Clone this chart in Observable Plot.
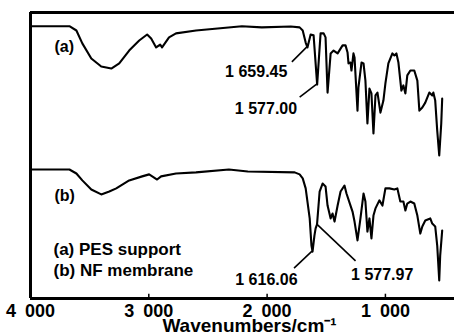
<!DOCTYPE html>
<html><head><meta charset="utf-8">
<script src="https://cdn.jsdelivr.net/npm/d3@7"></script>
<script src="https://cdn.jsdelivr.net/npm/@observablehq/plot@0.6"></script>
<style>body{margin:0;background:#fff}</style>
</head><body><div id="chart"></div>
<script>
// Trace (a) PES support
const wavenumberA = [4000,3671,3612,3562,3486,3402,3317,3250,3166,3081,3014,2980,2938,2904,2888,2829,2770,2601,2213,2045,1800,1725,1699,1674,1659,1632,1607,1577,1548,1522,1506,1489,1463,1438,1404,1362,1337,1320,1312,1295,1287,1270,1261,1236,1228,1202,1185,1169,1152,1135,1118,1101,1084,1067,1042,1017,1000,975,941,924,907,890,865,848,831,815,789,756,730,713,688,663,629,604,595,579,562,545,528,520];
const transmittanceA = [95.2,95.2,93.7,89.2,83.9,81.1,80.4,82.2,86.7,90.2,92.3,90.9,87.8,88.8,87.8,91.3,92.7,93.7,95.2,94.8,95.1,94.8,93.7,89.5,87.8,92.3,92.0,74.8,92.7,92.7,91.3,72.0,85.7,86.7,85.7,88.5,88.5,86.0,82.2,82.5,79.7,85.7,84.3,65.7,73.8,82.5,82.2,76.2,61.2,73.4,71.7,57.7,71.0,72.0,65.0,69.2,75.2,82.2,85.7,85.0,85.7,82.5,72.7,74.5,71.7,78.0,79.7,79.7,76.2,65.7,66.8,68.5,72.0,71.0,72.0,69.2,58.7,50.0,61.2,69.9];
// Trace (b) NF membrane
const wavenumberB = [4000,3671,3612,3562,3486,3402,3334,3275,3166,3056,2997,2955,2930,2896,2770,2601,2323,2163,1767,1725,1699,1674,1640,1625,1616,1600,1590,1578,1556,1531,1506,1489,1463,1447,1430,1404,1379,1346,1329,1295,1278,1261,1236,1211,1185,1169,1152,1135,1118,1101,1084,1051,1025,1000,966,924,899,874,848,831,815,789,756,730,705,688,663,621,604,579,562,545,537,520];
const transmittanceB = [45.1,45.1,43.7,41.3,38.1,36.4,37.4,38.5,41.3,42.7,43.4,42.3,41.6,42.7,43.7,44.1,45.1,44.4,44.1,43.4,42.0,38.5,28.0,18.5,16.4,22.0,24.5,25.9,37.4,40.2,39.2,32.5,28.0,29.7,26.9,32.5,37.4,39.5,36.7,32.5,30.4,26.9,20.3,28.0,36.7,33.9,23.4,28.0,21.0,29.0,31.5,34.3,32.5,38.5,38.5,38.1,38.5,33.9,33.9,30.8,33.2,33.9,33.2,29.0,22.7,25.2,27.3,28.0,26.2,25.2,18.5,6.3,15.0,23.8];

const tickValues = [4000, 3000, 2000, 1000];
const tickLabels = ["4 000", "3 000", "2 000", "1 000"];
const xTitle = "Wavenumbers/cm\u207B\u00B9";
const traceLabels = ["(a)", "(b)"];
const legendLines = ["(a) PES support", "(b) NF membrane"];
const peakLabels = ["1 659.45", "1 577.00", "1 616.06", "1 577.97"];
const peakWavenumbers = [1659.45, 1577.00, 1616.06, 1577.97];
const peakTransmittance = [87.8, 74.8, 16.4, 25.9];

const dataA = wavenumberA.map((w, i) => ({w, t: transmittanceA[i]}));
const dataB = wavenumberB.map((w, i) => ({w, t: transmittanceB[i]}));
const peaks = peakLabels.map((label, i) => ({label, w: peakWavenumbers[i], t: peakTransmittance[i]}));

// label layout (pixel offsets from each peak): leader end, text offset, anchor
const layout = [
  {lx: -15, ly: 15, dx: -20, dy: 24, anchor: "end"},
  {lx: -17, ly: 13, dx: -20, dy: 24, anchor: "end"},
  {lx: -18, ly: 17, dx: -15, dy: 28, anchor: "end"},
  {lx: 39, ly: 37, dx: 34, dy: 50, anchor: "start"}
];

const font = "Liberation Sans, Arial, Helvetica, sans-serif";
const txt = {fontFamily: font, fontWeight: "bold", fill: "black"};

const leaders = (index, scales) => {
  const g = d3.create("svg:g").attr("stroke", "black").attr("stroke-width", 1.6).attr("fill", "none");
  peaks.forEach((p, i) => {
    const x = scales.x(p.w), y = scales.y(p.t);
    g.append("line").attr("x1", x).attr("y1", y)
      .attr("x2", x + layout[i].lx).attr("y2", y + layout[i].ly);
  });
  return g.node();
};

const peakTextMarks = peaks.map((p, i) => Plot.text([p], {
  x: "w", y: "t", text: "label", dx: layout[i].dx, dy: layout[i].dy,
  textAnchor: layout[i].anchor, lineAnchor: "middle", fontSize: 16, ...txt
}));

const chart = Plot.plot({
  width: 454, height: 336,
  marginLeft: 30, marginRight: 0, marginTop: 12, marginBottom: 38,
  x: {domain: [4000, 416], axis: null},
  y: {domain: [0, 100], axis: null},
  style: {background: "white", fontFamily: font, overflow: "visible"},
  marks: [
    Plot.line(dataA, {x: "w", y: "t", stroke: "black", strokeWidth: 2.1}),
    Plot.line(dataB, {x: "w", y: "t", stroke: "black", strokeWidth: 2.1}),
    Plot.ruleX([4000], {stroke: "black", strokeWidth: 3}),
    Plot.ruleY([0, 100], {stroke: "black", strokeWidth: 3}),
    Plot.ruleX(tickValues.slice(1), {y1: 0, y2: 1.5, stroke: "black", strokeWidth: 1.5}),
    Plot.text(tickValues, {x: d => d, text: (d, i) => tickLabels[i], frameAnchor: "bottom", dy: 12.5, lineAnchor: "middle", fontSize: 18, ...txt}),
    Plot.text([xTitle], {frameAnchor: "bottom", dx: 7, dy: 27, lineAnchor: "middle", fontSize: 19, ...txt}),
    Plot.text([traceLabels[0]], {frameAnchor: "top-left", dx: 24, dy: 34.5, textAnchor: "start", lineAnchor: "middle", fontSize: 16, ...txt}),
    Plot.text([traceLabels[1]], {frameAnchor: "top-left", dx: 24, dy: 183, textAnchor: "start", lineAnchor: "middle", fontSize: 16, ...txt}),
    Plot.text([legendLines[0]], {frameAnchor: "top-left", dx: 23, dy: 237, textAnchor: "start", lineAnchor: "middle", fontSize: 17, ...txt}),
    Plot.text([legendLines[1]], {frameAnchor: "top-left", dx: 23, dy: 258, textAnchor: "start", lineAnchor: "middle", fontSize: 17, ...txt}),
    leaders,
    ...peakTextMarks
  ]
});
chart.querySelectorAll("text").forEach(t => {
  if (tickLabels.includes(t.textContent)) t.style.wordSpacing = "4px";
});
document.getElementById("chart").appendChild(chart);
</script>
</body></html>
